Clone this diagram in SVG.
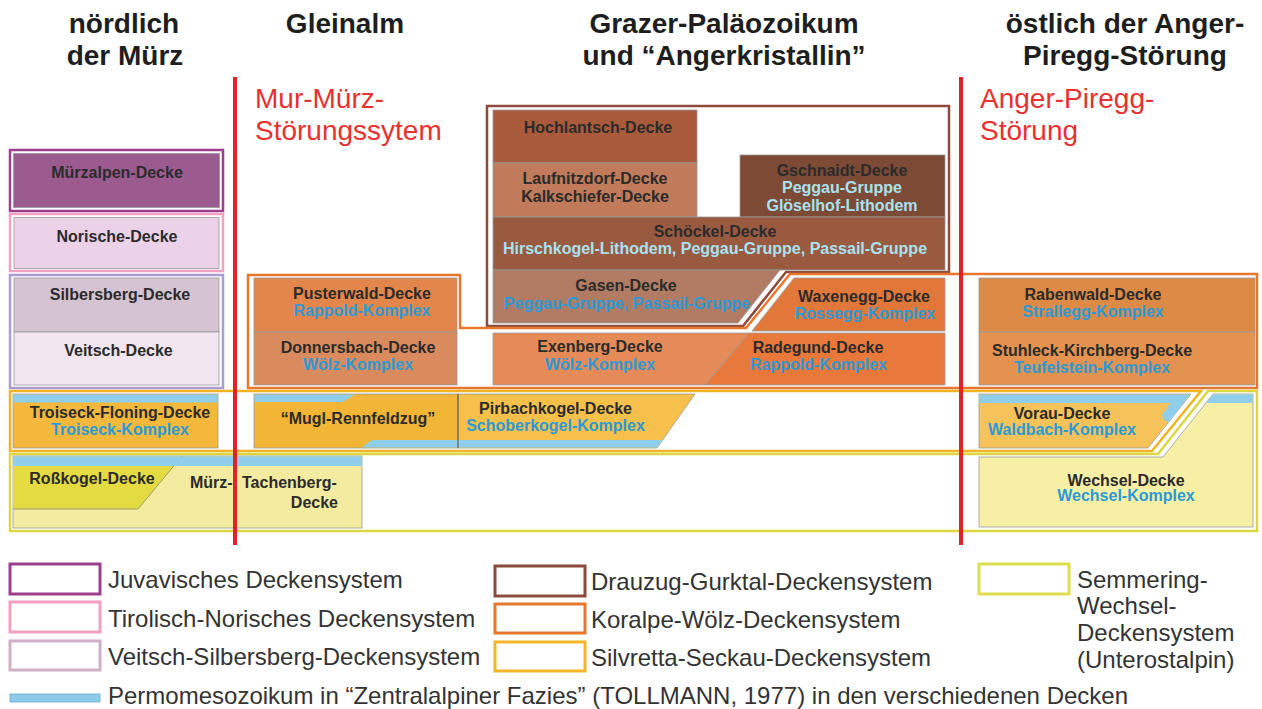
<svg xmlns="http://www.w3.org/2000/svg" width="1262" height="709" viewBox="0 0 1262 709">
<style>
.t{font-family:"Liberation Sans",Arial,sans-serif;font-weight:bold;font-size:16px;fill:#2b2b2b;text-anchor:middle}
.s{text-anchor:start}
.e{text-anchor:end}
.b{fill:#2a9ad8}
.lb{fill:#a8e2f2}
.h{font-family:"Liberation Sans",Arial,sans-serif;font-weight:bold;font-size:28px;fill:#1e1e1e;text-anchor:middle}
.r{font-family:"Liberation Sans",Arial,sans-serif;font-size:28px;fill:#e8312f}
.lg{font-family:"Liberation Sans",Arial,sans-serif;font-size:24px;fill:#333}
.box{stroke:#9a9a9a;stroke-width:0.8}
.fr{fill:none;stroke-width:2.5}
.blue{fill:#8fcfeb}
.lk{fill:#fff;stroke-width:3}
</style>
<rect width="1262" height="709" fill="#fff"/>

<g id="headers">
<text class="h" x="124" y="33">nördlich</text>
<text class="h" x="125" y="65">der Mürz</text>
<text class="h" x="345" y="33">Gleinalm</text>
<text class="h" x="724" y="33">Grazer-Paläozoikum</text>
<text class="h" x="724" y="65">und “Angerkristallin”</text>
<text class="h" x="1125" y="33">östlich der Anger-</text>
<text class="h" x="1125" y="65">Piregg-Störung</text>
</g>

<g id="frames">
<rect id="frame-juvavisch" class="fr" x="10" y="150" width="213" height="61" stroke="#9c3f8f"/>
<rect id="frame-tirolisch" class="fr" x="10" y="214" width="213" height="57" stroke="#f2a3c4"/>
<rect id="frame-veitsch" class="fr" x="10" y="275" width="213" height="113" stroke="#ab9bd2"/>
<path id="frame-drauzug" class="fr" d="M487,106 H949 V272 H786 L743,326 H487 Z" stroke="#8e4a3a"/>
<path id="frame-koralpe" class="fr" d="M248,275 H460 V328 H746 L790,274 H1257 V388 H248 Z" stroke="#e8772e"/>
<path id="frame-silvretta" class="fr" d="M10,391 H1201 L1152,451 H10 Z" stroke="#f2b320"/>
<path id="frame-semmering" class="fr" d="M10,454 H1158 L1208,391 H1257 V531 H10 Z" stroke="#dcd640"/>
</g>

<g id="muerzalpen-decke">
<rect class="box" x="13.5" y="153.5" width="206" height="54" fill="#9c5b8f"/>
<text class="t" x="117" y="178">Mürzalpen-Decke</text>
</g>
<g id="norische-decke">
<rect class="box" x="14" y="217.5" width="205" height="51" fill="#ebd2e8"/>
<text class="t" x="117" y="241.5">Norische-Decke</text>
</g>
<g id="silbersberg-decke">
<rect class="box" x="14" y="278" width="205" height="54" fill="#d6c3d1"/>
<text class="t" x="120" y="300">Silbersberg-Decke</text>
</g>
<g id="veitsch-decke">
<rect class="box" x="14" y="332" width="205" height="53" fill="#f1e5ef"/>
<text class="t" x="118.5" y="356">Veitsch-Decke</text>
</g>
<g id="troiseck-floning-decke">
<rect class="box" x="13" y="394" width="205" height="54" fill="#f4b93c"/>
<rect class="blue" x="13.5" y="394.5" width="204" height="8"/>
<text class="t" x="120" y="418">Troiseck-Floning-Decke</text>
<text class="t b" x="120" y="435">Troiseck-Komplex</text>
</g>
<g id="rosskogel-muerz-tachenberg-decke">
<rect class="box" x="13" y="456" width="349" height="72" fill="#f3eca0"/>
<polygon points="13,466 174,466 138,509 13,509" fill="#e4da42"/>
<path d="M13,509 H138 L182,456" fill="none" stroke="#8a8a6a" stroke-width="0.8"/>
<rect class="blue" x="13.5" y="456.5" width="348" height="9.5"/>
<text class="t" x="92" y="484">Roßkogel-Decke</text>
<text class="t s" x="190" y="488">Mürz-</text>
<text class="t s" x="242" y="488">Tachenberg-</text>
<text class="t e" x="338" y="508">Decke</text>
</g>

<g id="hochlantsch-decke">
<rect class="box" x="493" y="110" width="204" height="53" fill="#a85a3b"/>
<text class="t" x="598" y="133">Hochlantsch-Decke</text>
</g>
<g id="laufnitzdorf-decke">
<rect class="box" x="493" y="163" width="204" height="54" fill="#c17a5a"/>
<text class="t" x="595" y="184">Laufnitzdorf-Decke</text>
<text class="t" x="595" y="202">Kalkschiefer-Decke</text>
</g>
<g id="gschnaidt-decke">
<rect class="box" x="740" y="155" width="205" height="62" fill="#7c4a35"/>
<text class="t" x="842" y="176">Gschnaidt-Decke</text>
<text class="t lb" x="842" y="193">Peggau-Gruppe</text>
<text class="t lb" x="842" y="211">Glöselhof-Lithodem</text>
</g>
<g id="schoeckel-decke">
<rect class="box" x="493" y="217" width="452" height="53" fill="#995a3f"/>
<text class="t" x="715" y="237">Schöckel-Decke</text>
<text class="t lb" x="715" y="254">Hirschkogel-Lithodem, Peggau-Gruppe, Passail-Gruppe</text>
</g>
<g id="gasen-decke">
<polygon class="box" points="493,270 780,270 738,323 493,323" fill="#b27c64"/>
<text class="t" x="626" y="291">Gasen-Decke</text>
<text class="t b" x="627" y="309">Peggau-Gruppe, Passail-Gruppe</text>
</g>

<g id="pusterwald-decke">
<rect class="box" x="254" y="278" width="203" height="54" fill="#e3864c"/>
<text class="t" x="362" y="299">Pusterwald-Decke</text>
<text class="t b" x="362" y="316">Rappold-Komplex</text>
</g>
<g id="donnersbach-decke">
<rect class="box" x="254" y="332" width="203" height="53" fill="#d98b5d"/>
<text class="t" x="358" y="352.5">Donnersbach-Decke</text>
<text class="t b" x="358" y="370">Wölz-Komplex</text>
</g>
<g id="waxenegg-decke">
<polygon class="box" points="794,278 945,278 945,331 752,331" fill="#e2773a"/>
<text class="t" x="864" y="301.5">Waxenegg-Decke</text>
<text class="t b" x="865" y="319">Rossegg-Komplex</text>
</g>
<g id="exenberg-decke">
<polygon class="box" points="493,333 749,333 705,385 493,385" fill="#e58b58"/>
<text class="t" x="600" y="352">Exenberg-Decke</text>
<text class="t b" x="600" y="370">Wölz-Komplex</text>
</g>
<g id="radegund-decke">
<polygon class="box" points="749,333 945,333 945,385 705,385" fill="#e8793b"/>
<text class="t" x="818" y="353">Radegund-Decke</text>
<text class="t b" x="818.5" y="370">Rappold-Komplex</text>
</g>
<g id="rabenwald-decke">
<rect class="box" x="979" y="278" width="276" height="54" fill="#dc8a46"/>
<text class="t" x="1093" y="300">Rabenwald-Decke</text>
<text class="t b" x="1093" y="317">Strallegg-Komplex</text>
</g>
<g id="stuhleck-kirchberg-decke">
<rect class="box" x="979" y="332" width="276" height="53" fill="#e4924f"/>
<text class="t" x="1092" y="356">Stuhleck-Kirchberg-Decke</text>
<text class="t b" x="1092" y="373">Teufelstein-Komplex</text>
</g>

<g id="mugl-rennfeldzug">
<rect class="box" x="254" y="394" width="204" height="54" fill="#f3b535"/>
<polygon class="blue" points="254.5,394.5 355,394.5 343,402 254.5,402"/>
<polygon class="blue" points="372,440 458,440 458,447.5 362,447.5"/>
<text class="t" x="358" y="424">“Mugl-Rennfeldzug”</text>
</g>
<g id="pirbachkogel-decke">
<polygon class="box" points="458,394 695,394 657,448 458,448" fill="#f6c04a"/>
<polygon class="blue" points="458.5,440 662.5,440 657,447.5 458.5,447.5"/>
<line x1="458" y1="394" x2="458" y2="448" stroke="#555" stroke-width="1"/>
<text class="t" x="555.5" y="414">Pirbachkogel-Decke</text>
<text class="t b" x="555.5" y="431">Schoberkogel-Komplex</text>
</g>
<g id="vorau-decke">
<polygon class="box" points="979,394 1191,394 1148,448 979,448" fill="#f6c25a"/>
<polygon class="blue" points="979.5,394.5 1190,394.5 1169,422 1164,420 1162,415 1167,408 1171,403 979.5,403"/>
<text class="t" x="1062" y="419">Vorau-Decke</text>
<text class="t b" x="1062" y="435">Waldbach-Komplex</text>
</g>
<g id="wechsel-decke">
<polygon class="box" points="1213,394 1253,394 1253,527 979,527 979,457 1163,457" fill="#f6efa5"/>
<polygon class="blue" points="1213,394.5 1252.5,394.5 1252.5,403 1206,403"/>
<text class="t" x="1126" y="486">Wechsel-Decke</text>
<text class="t b" x="1126" y="501">Wechsel-Komplex</text>
</g>

<g id="fault-lines">
<line x1="235" y1="77" x2="235" y2="545" stroke="#e02424" stroke-width="4"/>
<line x1="961" y1="77" x2="961" y2="545" stroke="#e02424" stroke-width="4"/>
<text class="r" x="255" y="108">Mur-Mürz-</text>
<text class="r" x="255" y="140">Störungssytem</text>
<text class="r" x="980" y="108">Anger-Piregg-</text>
<text class="r" x="980" y="140">Störung</text>
</g>

<g id="legend">
<g id="legend-juvavisch"><rect class="lk" x="10" y="564" width="90" height="30" stroke="#9e3e8e"/><text class="lg" x="108" y="588">Juvavisches Deckensystem</text></g>
<g id="legend-tirolisch"><rect class="lk" x="10" y="602" width="90" height="30" stroke="#f2a0c0"/><text class="lg" x="108" y="627">Tirolisch-Norisches Deckensystem</text></g>
<g id="legend-veitsch"><rect class="lk" x="10" y="641" width="90" height="29" stroke="#cfb0c8"/><text class="lg" x="108" y="665">Veitsch-Silbersberg-Deckensystem</text></g>
<g id="legend-drauzug"><rect class="lk" x="495" y="566" width="90" height="30" stroke="#8b4a3c"/><text class="lg" x="591" y="590">Drauzug-Gurktal-Deckensystem</text></g>
<g id="legend-koralpe"><rect class="lk" x="495" y="604" width="90" height="29" stroke="#e8772e"/><text class="lg" x="591" y="628">Koralpe-Wölz-Deckensystem</text></g>
<g id="legend-silvretta"><rect class="lk" x="495" y="642" width="90" height="29" stroke="#f4b52a"/><text class="lg" x="591" y="666">Silvretta-Seckau-Deckensystem</text></g>
<g id="legend-semmering"><rect class="lk" x="979" y="564" width="90" height="30" stroke="#e0dc50"/>
<text class="lg" x="1077" y="588">Semmering-</text>
<text class="lg" x="1077" y="614">Wechsel-</text>
<text class="lg" x="1077" y="641">Deckensystem</text>
<text class="lg" x="1077" y="668">(Unterostalpin)</text></g>
<g id="legend-permomesozoikum"><rect x="10" y="694" width="90" height="8" fill="#8ecbe8" stroke="#6aa8cc" stroke-width="0.8"/>
<text class="lg" x="108" y="704">Permomesozoikum in “Zentralalpiner Fazies” (TOLLMANN, 1977) in den verschiedenen Decken</text></g>
</g>
</svg>
